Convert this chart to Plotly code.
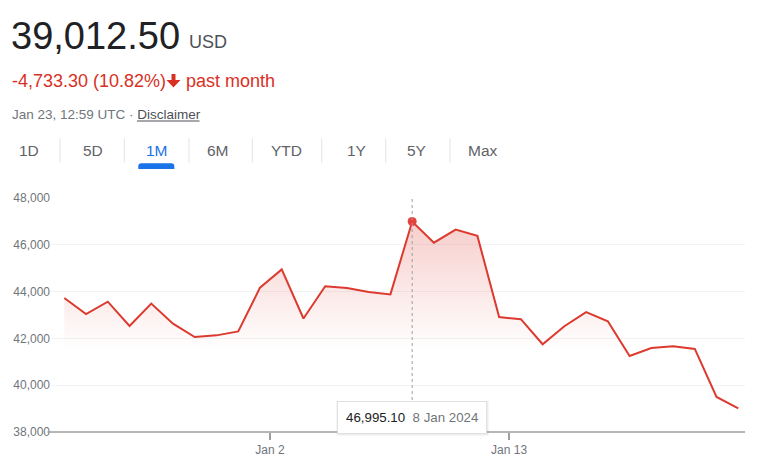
import pandas as pd
import plotly.graph_objects as go

# ---------------- data ----------------
dates = pd.date_range("2023-12-23 12:59", "2024-01-23 12:59", freq="D")
prices = [43726, 43040, 43570, 42530, 43490, 42630, 42060, 42130, 42300, 44170,
          44950, 42850, 44230, 44150, 43980, 43880, 46995.10, 46090, 46650, 46380,
          42910, 42820, 41750, 42520, 43120, 42730, 41250, 41590, 41660, 41550,
          39500, 39012.50]
hover_index = 16
y_ticks = [38000, 40000, 42000, 44000, 46000, 48000]
x_tick_vals = ["2024-01-02", "2024-01-13"]
x_tick_text = ["Jan 2", "Jan 13"]
range_tabs = ["1D", "5D", "1M", "6M", "YTD", "1Y", "5Y", "Max"]
selected_tab = "1M"
price_text = "39,012.50"
currency = "USD"
change_text = "-4,733.30 (10.82%)"
period_text = "past month"
stamp_text = "Jan 23, 12:59 UTC · "
disclaimer = "Disclaimer"
tooltip_value = "46,995.10"
tooltip_date = "8 Jan 2024"

# ---------------- layout helpers ----------------
W, H = 760, 465
ML, MR, MT, MB = 51, 15, 198, 33
PW, PH = W - ML - MR, H - MT - MB
FONT = "Liberation Sans, Arial, sans-serif"
RED = "#d93025"
LINE_RED = "#dc3a2f"
DOT_RED = "#e5423a"
GREY = "#70757a"


def px(x):
    return (x - ML) / PW


def py(y):
    return (H - MB - y) / PH


fig = go.Figure()
fig.add_trace(go.Scatter(
    x=dates, y=prices, mode="lines",
    line=dict(color=LINE_RED, width=2),
    fill="tozeroy",
    fillgradient=dict(type="vertical",
                      colorscale=[[0, "rgba(220,58,47,0)"], [1, "rgba(220,58,47,0.25)"]],
                      start=41500, stop=47000),
    hoverinfo="skip", showlegend=False,
))
fig.add_trace(go.Scatter(
    x=[dates[hover_index]], y=[prices[hover_index]], mode="markers",
    marker=dict(color=DOT_RED, size=9, line=dict(width=0)), hoverinfo="skip", showlegend=False,
))

shapes = []
annotations = []

# bottom axis line
shapes.append(dict(type="line", xref="paper", yref="paper", x0=px(47.5), x1=1, y0=0, y1=0,
                   line=dict(color="#9e9e9e", width=1.5)))
# dotted hover line
shapes.append(dict(type="line", xref="x", yref="paper", x0=dates[hover_index], x1=dates[hover_index],
                   y0=py(400), y1=py(199), line=dict(color="#9aa0a6", width=1, dash="dot")))

# header
annotations.append(dict(text=price_text, x=px(9), y=py(35.5), xanchor="left", yanchor="middle",
                        font=dict(size=38, color="#202124", family=FONT)))
annotations.append(dict(text=currency, x=px(186.5), y=py(42.5), xanchor="left", yanchor="middle",
                        font=dict(size=18, color="#4d5156", family=FONT)))
annotations.append(dict(text=change_text, x=px(9.5), y=py(80.7), xanchor="left", yanchor="middle",
                        font=dict(size=18, color=RED, family=FONT)))
annotations.append(dict(text=period_text, x=px(183.5), y=py(80.7), xanchor="left", yanchor="middle",
                        font=dict(size=18, color=RED, family=FONT)))
# down arrow icon
ax = [171.5, 175.5, 175.5, 180.5, 173.5, 166.5, 171.5]
ay = [74, 74, 80, 80, 87.5, 80, 80]
path = "M " + " L ".join(f"{px(a)},{py(b)}" for a, b in zip(ax, ay)) + " Z"
shapes.append(dict(type="path", xref="paper", yref="paper", path=path,
                   fillcolor=RED, line=dict(width=0)))
annotations.append(dict(text=f"{stamp_text}<span style='color:#4d5156'>{disclaimer}</span>",
                        x=px(9.5), y=py(114.3), xanchor="left", yanchor="middle",
                        font=dict(size=13.5, color=GREY, family=FONT)))
shapes.append(dict(type="line", xref="paper", yref="paper", x0=px(137), x1=px(199.5),
                   y0=py(121), y1=py(121), line=dict(color="#4d5156", width=1)))

# range tabs
tab_x = [29.3, 93.3, 156.7, 218.3, 286.7, 356, 416.7, 482.7]
sep_x = [60, 124.3, 189, 252.3, 321.7, 385.7, 450]
for t, cx in zip(range_tabs, tab_x):
    annotations.append(dict(text=t, x=px(cx), y=py(150.2), xanchor="center", yanchor="middle",
                            font=dict(size=15.5, color="#1a73e8" if t == selected_tab else "#5f6368",
                                      family=FONT)))
for sx in sep_x:
    shapes.append(dict(type="line", xref="paper", yref="paper", x0=px(sx), x1=px(sx),
                       y0=py(138), y1=py(163), line=dict(color="#e3e5e8", width=1)))
ux0, ux1, uy0, uy1, r = 138.3, 174.3, 163.3, 169, 3
upath = (f"M {px(ux0)},{py(uy1)} L {px(ux0)},{py(uy0 + r)} Q {px(ux0)},{py(uy0)} {px(ux0 + r)},{py(uy0)} "
         f"L {px(ux1 - r)},{py(uy0)} Q {px(ux1)},{py(uy0)} {px(ux1)},{py(uy0 + r)} L {px(ux1)},{py(uy1)} Z")
shapes.append(dict(type="path", xref="paper", yref="paper", path=upath,
                   fillcolor="#1a73e8", line=dict(width=0)))

# tooltip
shapes.append(dict(type="rect", xref="paper", yref="paper", x0=px(336.5), x1=px(488.5),
                   y0=py(435.5), y1=py(401), fillcolor="rgba(0,0,0,0.07)", line=dict(width=0)))
annotations.append(dict(
    text=f"<span style='color:#202124'>{tooltip_value}</span>\u00a0\u00a0{tooltip_date}",
    xref="x", x=dates[hover_index], y=py(417), yanchor="middle", xanchor="center",
    bgcolor="white", bordercolor="#e0e0e0", borderwidth=1, borderpad=8,
    font=dict(size=13.3, color=GREY, family=FONT)))

for a in annotations:
    a.setdefault("xref", "paper")
    a.setdefault("yref", "paper")
    a["showarrow"] = False

fig.update_layout(
    template="none",
    width=W, height=H, autosize=False,
    margin=dict(l=ML, r=MR, t=MT, b=MB, pad=0, autoexpand=False),
    paper_bgcolor="white", plot_bgcolor="white",
    font=dict(family=FONT, color=GREY),
    shapes=shapes, annotations=annotations,
    showlegend=False,
    xaxis=dict(
        range=["2023-12-22 22:18", "2024-01-23 20:23"],
        tickvals=x_tick_vals, ticktext=x_tick_text, automargin=False,
        ticks="outside", ticklen=7, tickwidth=1.5, tickcolor="#9e9e9e",
        showgrid=False, zeroline=False, showline=False,
        tickfont=dict(size=12, color=GREY, family=FONT),
    ),
    yaxis=dict(
        range=[38000, 48000], tickvals=y_ticks, tickformat=",", automargin=False,
        showgrid=True, gridcolor="#f1f3f4", gridwidth=1,
        zeroline=False, showline=False, ticks="",
        tickfont=dict(size=12, color=GREY, family=FONT),
    ),
)

fig.write_html("out.html", config={"displayModeBar": False},
               post_script="document.body.style.margin='0';")
